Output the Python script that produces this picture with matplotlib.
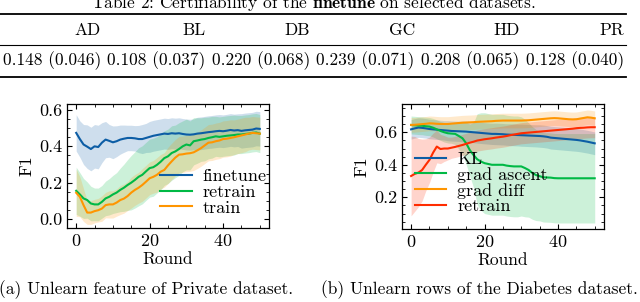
import matplotlib
matplotlib.use("Agg")
import matplotlib.pyplot as plt
import numpy as np
from matplotlib.ticker import MultipleLocator

plt.rcParams['font.family'] = 'serif'
plt.rcParams['font.serif'] = ['cmr10']
plt.rcParams['mathtext.fontset'] = 'cm'
plt.rcParams['axes.formatter.use_mathtext'] = True
plt.rcParams['font.size'] = 12

# table data
table_title = r'Table 2: Certifiability of the $\mathbf{finetune}$ on selected datasets.'
table_cols = ['AD', 'BL', 'DB', 'GC', 'HD', 'PR']
table_mean = ['0.148', '0.108', '0.220', '0.239', '0.208', '0.128']
table_std = ['0.046', '0.037', '0.068', '0.071', '0.065', '0.040']

rounds = np.arange(51)

# (a) private dataset
ft_mean = [.474, .44, .41, .398, .385, .40, .396, .42, .437, .43,
           .422, .428, .437, .442, .446, .446, .444, .44, .44, .446,
           .452, .458, .462, .466, .47, .468, .472, .47, .472, .468,
           .465, .464, .466, .47, .472, .475, .478, .48, .483, .485,
           .483, .486, .49, .487, .489, .485, .488, .49, .492, .498, .496]
ft_std = [.10, .10, .11, .12, .12, .12, .12, .11, .10, .09,
          .09, .085, .08, .075, .07, .07, .07, .075, .08, .08,
          .085, .085, .085, .085, .085, .085, .085, .085, .085, .085,
          .085, .085, .085, .09, .09, .09, .09, .09, .09, .09,
          .09, .09, .09, .09, .09, .095, .095, .095, .095, .095, .095]
rt_mean = [.155, .135, .113, .104, .085, .08, .08, .094, .113, .122,
           .135, .145, .16, .172, .187, .20, .215, .232, .243, .262,
           .28, .285, .298, .315, .335, .345, .363, .372, .385, .40,
           .41, .405, .428, .432, .437, .44, .446, .45, .455, .452,
           .455, .458, .46, .462, .465, .465, .468, .47, .474, .476, .47]
rt_std = [.13, .12, .11, .10, .095, .09, .09, .09, .095, .10,
          .105, .11, .12, .13, .14, .15, .155, .16, .16, .16,
          .16, .16, .155, .155, .15, .15, .15, .145, .145, .14,
          .14, .135, .13, .125, .12, .12, .115, .115, .11, .11,
          .11, .11, .11, .11, .105, .105, .105, .105, .105, .105, .105]
tr_mean = [.144, .122, .076, .035, .035, .043, .048, .057, .076, .08,
           .08, .09, .104, .112, .126, .145, .16, .172, .187, .205,
           .224, .232, .243, .26, .27, .295, .317, .338, .354, .356,
           .36, .362, .367, .378, .39, .405, .42, .422, .428, .432,
           .44, .442, .446, .45, .455, .46, .465, .47, .474, .472, .47]
tr_std = [.13, .11, .09, .065, .065, .065, .065, .07, .07, .075,
          .075, .075, .08, .08, .08, .085, .085, .085, .09, .09,
          .09, .09, .095, .095, .095, .10, .10, .10, .10, .10,
          .10, .10, .10, .10, .10, .10, .10, .10, .10, .10,
          .10, .10, .10, .095, .095, .095, .095, .09, .09, .09, .09]

# (b) diabetes dataset
kl_mean = [.618, .624, .629, .627, .624, .62, .618, .616, .614, .612,
           .61, .608, .607, .606, .605, .604, .602, .60, .598, .596,
           .594, .592, .59, .59, .589, .588, .586, .585, .584, .583,
           .582, .581, .58, .579, .578, .577, .575, .572, .567, .565,
           .563, .561, .559, .557, .555, .553, .55, .546, .542, .537, .532]
kl_std = [.06, .06, .06, .06, .06, .06, .06, .06, .06, .06,
          .062, .062, .062, .062, .064, .064, .064, .064, .065, .065,
          .065, .065, .065, .066, .066, .066, .066, .067, .067, .067,
          .068, .068, .068, .068, .068, .069, .069, .069, .07, .07,
          .07, .07, .07, .07, .07, .07, .07, .07, .07, .07, .07]
ga_mean = [.645, .643, .641, .64, .637, .635, .628, .618, .608, .60,
           .594, .592, .59, .577, .563, .532, .49, .46, .434, .42,
           .41, .405, .40, .40, .40, .40, .395, .392, .39, .39,
           .39, .38, .368, .35, .337, .33, .323, .322, .321, .318,
           .317, .317, .317, .317, .317, .317, .317, .317, .317, .317, .317]
ga_std = [.055, .055, .055, .055, .056, .056, .057, .058, .058, .06,
          .06, .06, .065, .08, .10, .13, .16, .20, .28, .30,
          .31, .31, .31, .31, .31, .31, .31, .31, .31, .31,
          .305, .30, .29, .285, .28, .275, .275, .275, .275, .275,
          .275, .275, .275, .275, .275, .275, .275, .275, .275, .275, .275]
gd_mean = [.645, .646, .648, .65, .652, .655, .654, .652, .651, .651,
           .651, .653, .655, .657, .659, .66, .661, .662, .664, .665,
           .666, .667, .668, .67, .671, .672, .672, .672, .672, .672,
           .672, .673, .674, .676, .678, .68, .682, .684, .686, .687,
           .686, .684, .682, .68, .679, .68, .684, .688, .692, .69, .686]
gd_std = [.045] * 51
rr_mean = [.331, .344, .352, .368, .40, .43, .475, .512, .497, .50,
           .50, .505, .51, .516, .522, .529, .536, .542, .549, .553,
           .557, .56, .563, .567, .57, .573, .577, .582, .586, .59,
           .594, .596, .598, .60, .602, .604, .606, .608, .61, .612,
           .614, .616, .618, .62, .622, .625, .627, .628, .63, .631, .631]
rr_std = [.245, .23, .21, .19, .16, .14, .12, .10, .09, .08,
          .07, .065, .065, .065, .065, .065, .065, .065, .065, .065,
          .065, .065, .065, .065, .065, .065, .065, .065, .065, .065,
          .065, .065, .065, .065, .065, .065, .065, .065, .065, .065,
          .065, .065, .065, .065, .065, .065, .065, .065, .065, .065, .065]

caption_a = '(a) Unlearn feature of Private dataset.'
caption_b = '(b) Unlearn rows of the Diabetes dataset.'

blue, green, orange, red = '#0C5DA5', '#00B945', '#FF9500', '#FF2C00'

fig = plt.figure(figsize=(6.4, 3.02), dpi=100)

# table part, drawn in pixel coordinates
tab = fig.add_axes([0, 0, 1, 1])
tab.set_xlim(0, 640)
tab.set_ylim(302, 0)
tab.axis('off')
tab.text(313, 8, table_title, ha='center', va='baseline', fontsize=12.5)
tab.plot([0, 626], [14, 14], color='black', lw=1.3)
tab.plot([0, 626], [45, 45], color='black', lw=0.8)
tab.plot([0, 626], [77, 77], color='black', lw=1.3)
for i, col in enumerate(table_cols):
    xr = 101 + i * 104.6
    tab.text(xr, 30, col, ha='right', va='center', fontsize=12.5)
    tab.text(xr, 61, f'{table_mean[i]} ({table_std[i]})', ha='right', va='center', fontsize=12.5)
tab.text(146, 290, caption_a, ha='center', va='center', fontsize=12.5)
tab.text(479, 290, caption_b, ha='center', va='center', fontsize=12.5)


def style(ax):
    ax.tick_params(which='both', direction='in', top=True, right=True, labelsize=13)
    ax.tick_params(which='major', length=3.5, width=0.8)
    ax.tick_params(which='minor', length=2, width=0.6)
    ax.xaxis.set_major_locator(MultipleLocator(20))
    ax.xaxis.set_minor_locator(MultipleLocator(5))
    ax.yaxis.set_major_locator(MultipleLocator(0.2))
    ax.yaxis.set_minor_locator(MultipleLocator(0.05))
    ax.yaxis.set_major_formatter(plt.FormatStrFormatter('%.1f'))
    for s in ax.spines.values():
        s.set_linewidth(0.9)
    ax.set_xlim(-2.5, 52.5)
    ax.set_xlabel('Round', labelpad=2, fontsize=12.5)
    ax.set_ylabel('F1', labelpad=3, fontsize=13)


def band(ax, m, s, c, label):
    m = np.array(m)
    s = np.array(s)
    ax.fill_between(rounds, m - s, m + s, color=c, alpha=0.2, lw=0)
    ax.plot(rounds, m, color=c, lw=1.5, label=label)


ax1 = fig.add_axes([0.1047, 0.245, 0.3156, 0.4106])
band(ax1, ft_mean, ft_std, blue, 'finetune')
band(ax1, rt_mean, rt_std, green, 'retrain')
band(ax1, tr_mean, tr_std, orange, 'train')
style(ax1)
ax1.set_ylim(-0.05, 0.633)
ax1.legend(loc='center left', bbox_to_anchor=(0.46, 0.29), frameon=False,
           handlelength=1.75, handletextpad=0.6, labelspacing=0.0, borderpad=0,
           borderaxespad=0, fontsize=13)

ax2 = fig.add_axes([0.628, 0.2417, 0.3156, 0.414])
band(ax2, kl_mean, kl_std, blue, 'KL')
band(ax2, ga_mean, ga_std, green, 'grad ascent')
band(ax2, gd_mean, gd_std, orange, 'grad diff')
band(ax2, rr_mean, rr_std, red, 'retrain')
style(ax2)
ax2.set_ylim(0.005, 0.774)
ax2.legend(loc='center left', bbox_to_anchor=(0.064, 0.37), frameon=False,
           handlelength=1.75, handletextpad=0.6, labelspacing=0.0, borderpad=0,
           borderaxespad=0, fontsize=13)

fig.savefig('out.png', dpi=100)
